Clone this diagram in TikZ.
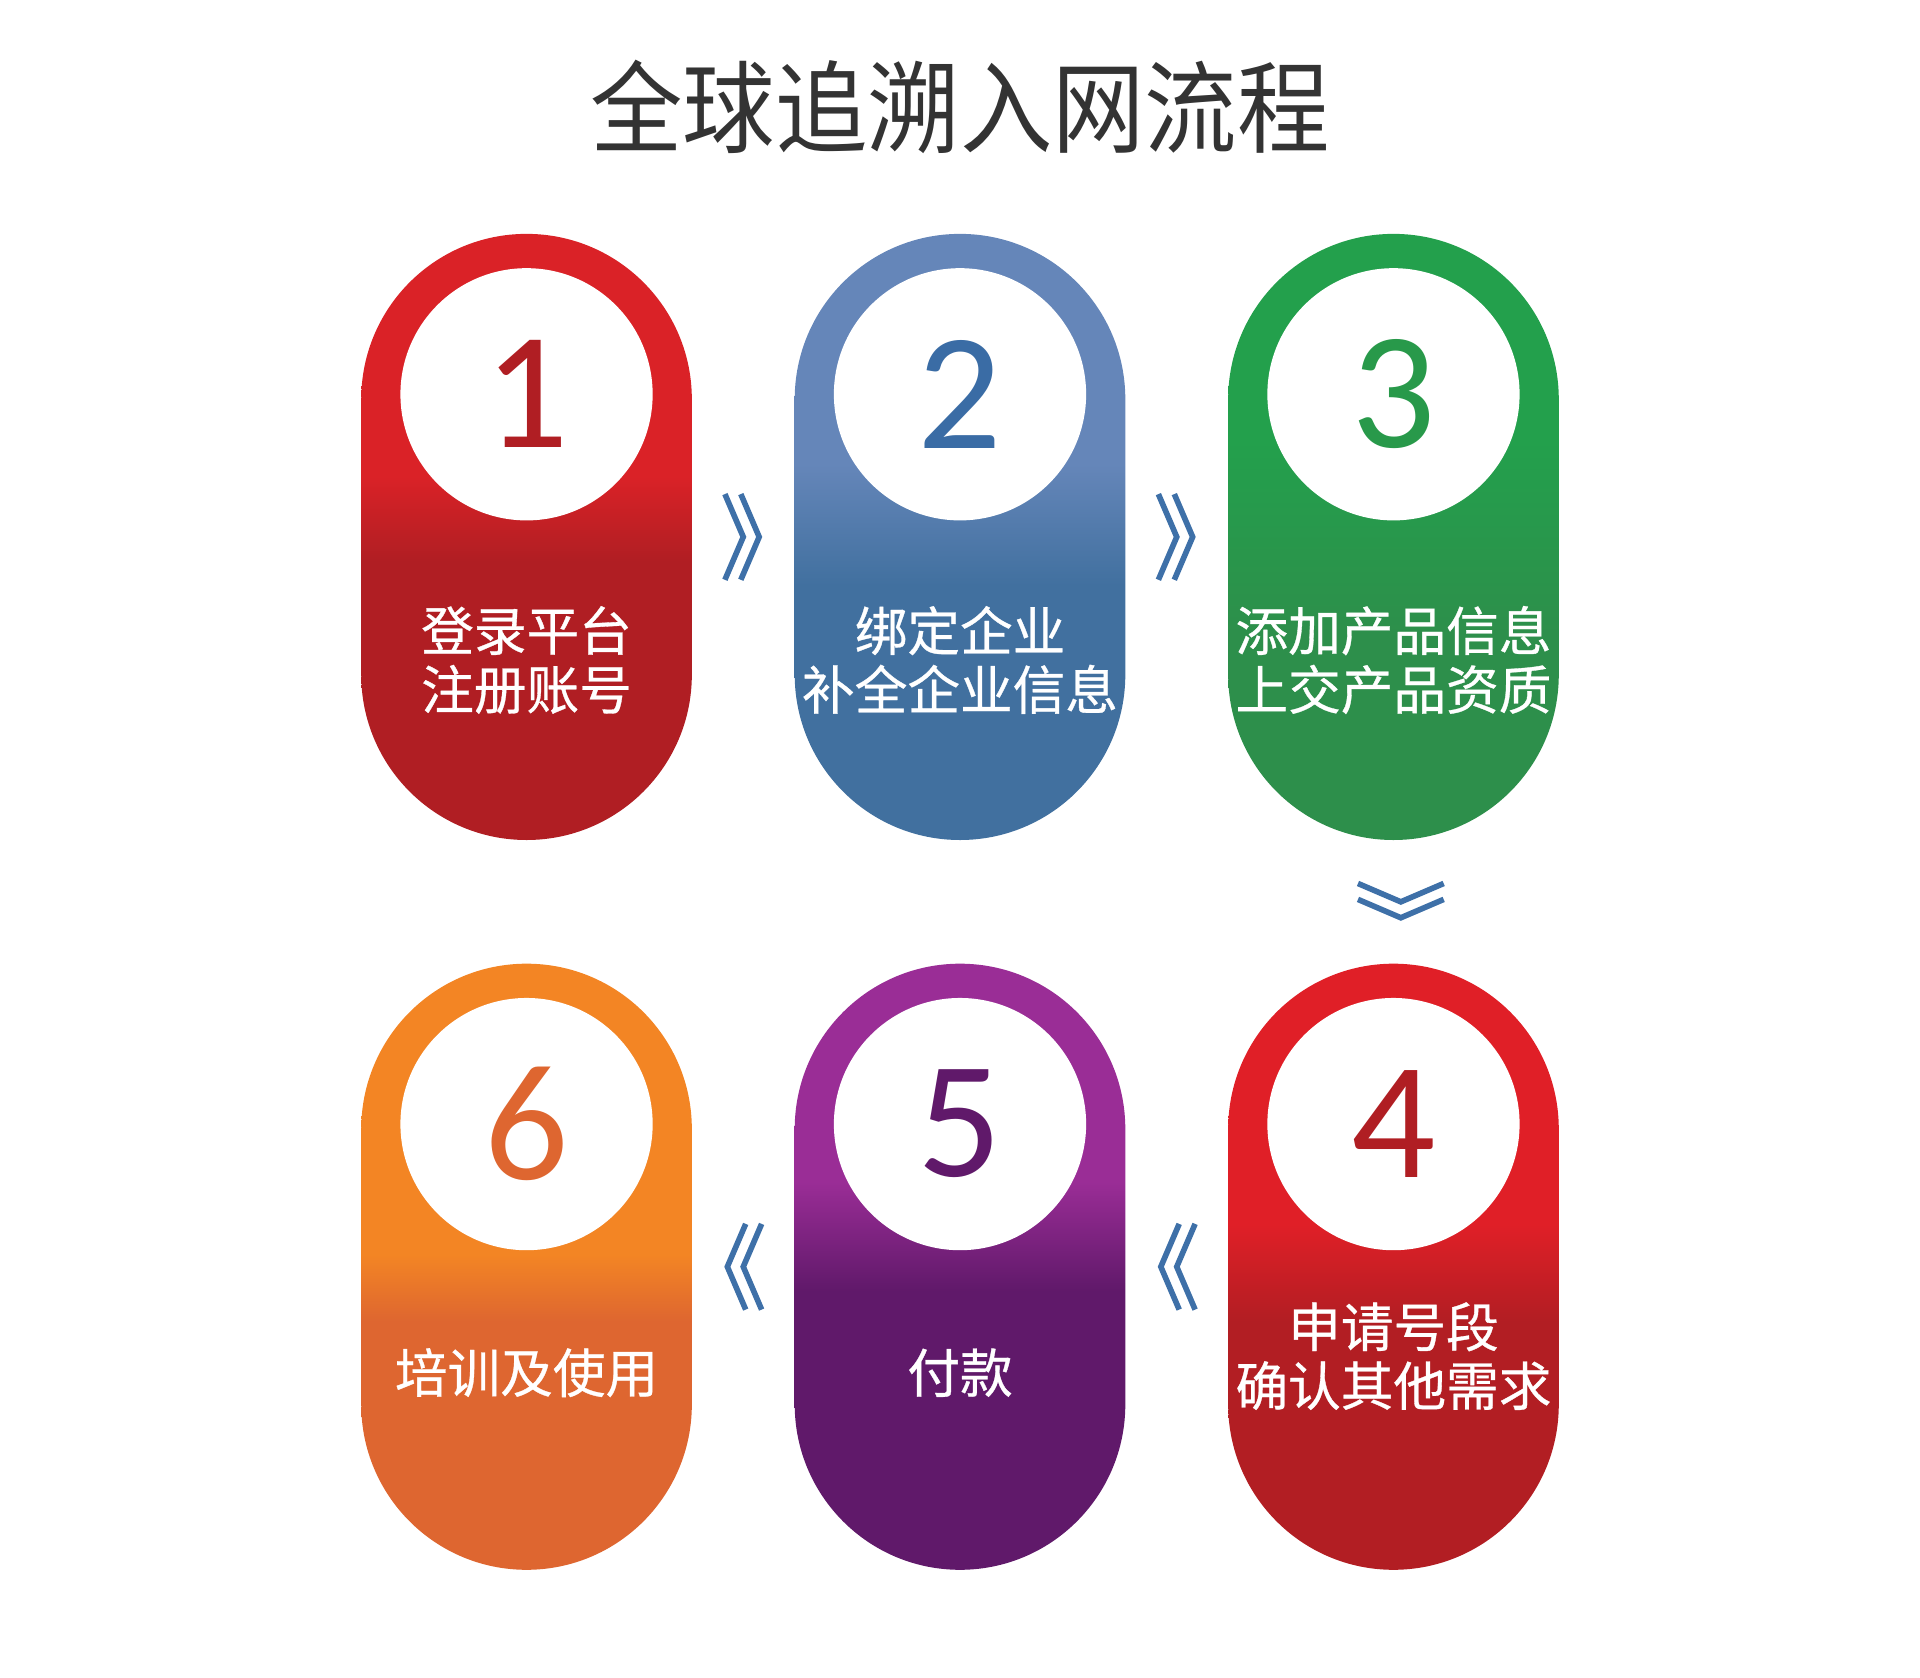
\documentclass[tikz,border=0pt]{standalone}
\usepackage{fontspec}
\usetikzlibrary{positioning}
\newfontfamily\cjk{Noto Sans CJK SC}[FakeBold=0.6]
\newfontfamily\cjktitle{Noto Sans CJK SC}[FakeStretch=0.92]
\newfontfamily\numfont{Carlito}
\definecolor{redtop}{HTML}{DA2227}
\definecolor{redbot}{HTML}{B01E23}
\definecolor{bluetop}{HTML}{6586B9}
\definecolor{bluebot}{HTML}{41709F}
\definecolor{bluenum}{HTML}{3A6CA5}
\definecolor{greentop}{HTML}{23A04C}
\definecolor{greenbot}{HTML}{2D8F4B}
\definecolor{greennum}{HTML}{28994A}
\definecolor{redtopb}{HTML}{E01F27}
\definecolor{redbotb}{HTML}{B21E23}
\definecolor{purpletop}{HTML}{9A2D96}
\definecolor{purplebot}{HTML}{60196A}
\definecolor{orangetop}{HTML}{F38524}
\definecolor{orangebot}{HTML}{DE6630}
\definecolor{chevblue}{HTML}{3E70A8}
\definecolor{titlegray}{HTML}{333333}
\newcommand\pillshading[5]{%
  \pgfdeclareverticalshading{#1}{100bp}{color(0bp)=(#3); color(#4)=(#3); color(#5)=(#2); color(100bp)=(#2)}}
\pillshading{shred}{redtop}{redbot}{48bp}{55bp}
\pillshading{shblue}{bluetop}{bluebot}{46bp}{56bp}
\pillshading{shgreen}{greentop}{greenbot}{42bp}{58bp}
\pillshading{shredb}{redtopb}{redbotb}{45.5bp}{53.5bp}
\pillshading{shpurple}{purpletop}{purplebot}{48bp}{57bp}
\pillshading{shorange}{orangetop}{orangebot}{45.5bp}{51bp}
\begin{document}
\begin{tikzpicture}[x=1pt,y=1pt,
  pill/.style={shade, draw=none, minimum width=135pt, minimum height=247.5pt, inner sep=0pt, outer sep=0pt, rounded corners=67.5pt},
  disc/.style={circle, fill=white, minimum size=103pt, inner sep=0pt, font=\numfont\fontsize{68}{68}\selectfont},
  lbl/.style={text=white, align=center, font=\cjk\fontsize{21.5}{24}\selectfont},
  chev/.style={draw=chevblue, line width=2.3pt}]
\useasboundingbox (0,0) rectangle (784,-685);
\node (title) [text=titlegray, font=\cjktitle\fontsize{41}{41}\selectfont] at (392,-43.75) {全球追溯入网流程};
\node (p1) [pill, shading=shred] at (215,-219.25) {};
\node (p2) [pill, shading=shblue, right=42pt of p1] {};
\node (p3) [pill, shading=shgreen, right=42pt of p2] {};
\node (p4) [pill, shading=shredb, below=50.5pt of p3] {};
\node (p5) [pill, shading=shpurple, left=42pt of p4] {};
\node (p6) [pill, shading=shorange, left=42pt of p5] {};
\node (c1) [disc, text=redbot] at ([yshift=58.25pt]p1.center) {1};
\node (c2) [disc, text=bluenum] at ([yshift=58.25pt]p2.center) {2};
\node (c3) [disc, text=greennum] at ([yshift=58.25pt]p3.center) {3};
\node (c4) [disc, text=redbot] at ([yshift=58.25pt]p4.center) {4};
\node (c5) [disc, text=purplebot] at ([yshift=58.25pt]p5.center) {5};
\node (c6) [disc, text=orangebot] at ([yshift=58.25pt]p6.center) {6};
\node (t1) [lbl] at ([yshift=-50.25pt]p1.center) {登录平台\\注册账号};
\node (t2) [lbl] at ([yshift=-50.25pt]p2.center) {绑定企业\\补全企业信息};
\node (t3) [lbl] at ([yshift=-50.25pt]p3.center) {添加产品信息\\上交产品资质};
\node (t4) [lbl] at ([yshift=-36.5pt]p4.center) {申请号段\\确认其他需求};
\node (t5) [lbl] at ([yshift=-43.25pt]p5.center) {付款};
\node (t6) [lbl] at ([yshift=-43.25pt]p6.center) {培训及使用};
\coordinate (a12) at ([xshift=21pt]p1.east);
\coordinate (a23) at ([xshift=21pt]p2.east);
\coordinate (a34) at ([xshift=3pt,yshift=-25.25pt]p3.south);
\coordinate (a45) at ([xshift=21pt]p5.east);
\coordinate (a56) at ([xshift=21pt]p6.east);
\foreach \a/\ux/\uy in {a12/1/0, a23/1/0, a34/0/-1, a45/-1/0, a56/-1/0}
  \draw[chev]
    ([shift={({-7.5*(\ux)-17.5*(\uy)},{-7.5*(\uy)+17.5*(\ux)})}]\a) -- (\a)
    -- ([shift={({-7.5*(\ux)+17.5*(\uy)},{-7.5*(\uy)-17.5*(\ux)})}]\a)
    ([shift={({-1*(\ux)-17.5*(\uy)},{-1*(\uy)+17.5*(\ux)})}]\a)
    -- ([shift={({6.5*(\ux)},{6.5*(\uy)})}]\a)
    -- ([shift={({-1*(\ux)+17.5*(\uy)},{-1*(\uy)-17.5*(\ux)})}]\a);
\end{tikzpicture}
\end{document}
